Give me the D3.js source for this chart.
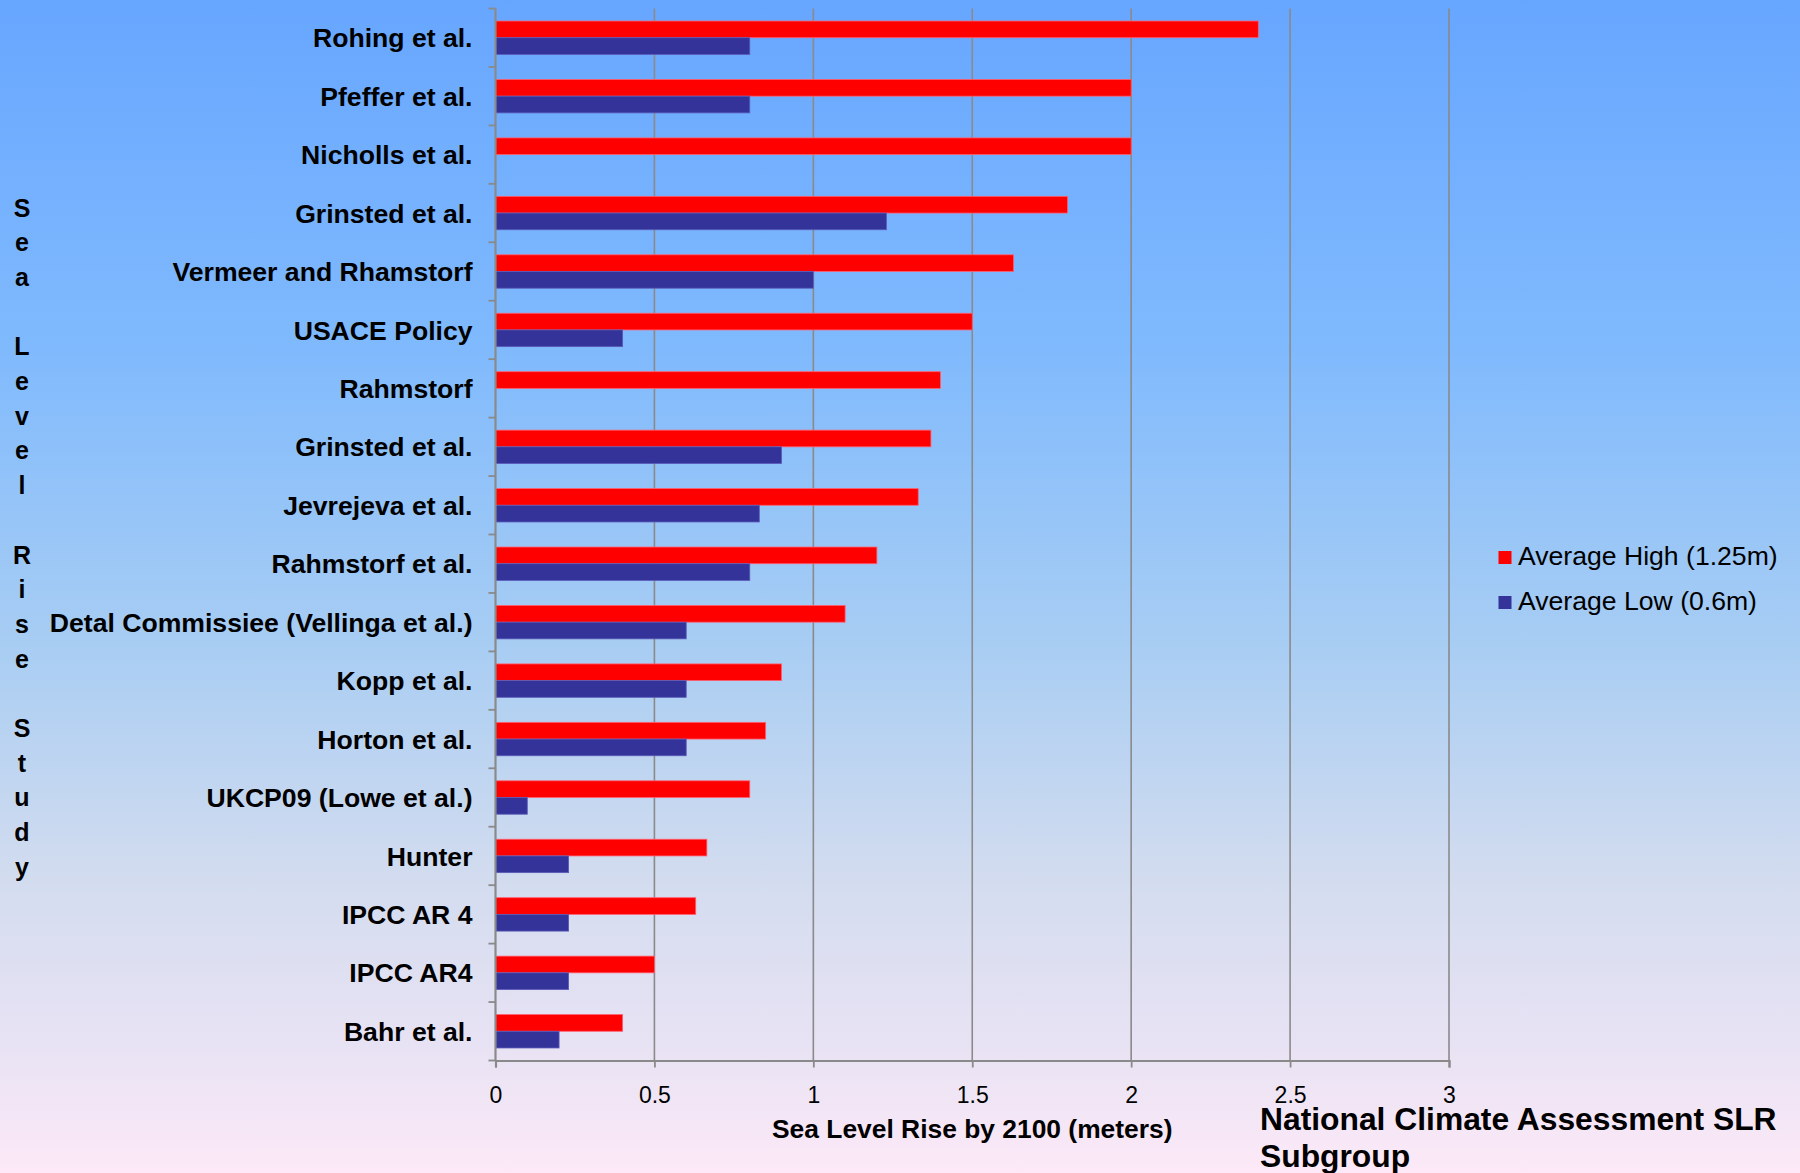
<!DOCTYPE html>
<html><head><meta charset="utf-8">
<script src="https://cdn.jsdelivr.net/npm/d3@7"></script>
<style>html,body{margin:0;padding:0;overflow:hidden;}svg{display:block;}</style>
</head><body>
<script>
const categories = ["Rohing et al.","Pfeffer et al.","Nicholls et al.","Grinsted et al.","Vermeer and Rhamstorf","USACE Policy","Rahmstorf","Grinsted et al.","Jevrejeva et al.","Rahmstorf et al.","Detal Commissiee (Vellinga et al.)","Kopp et al.","Horton et al.","UKCP09 (Lowe et al.)","Hunter","IPCC AR 4","IPCC AR4","Bahr et al."];
const highValues = [2.4,2.0,2.0,1.8,1.63,1.5,1.4,1.37,1.33,1.2,1.1,0.9,0.85,0.8,0.665,0.63,0.5,0.4];
const lowValues  = [0.8,0.8,null,1.23,1.0,0.4,null,0.9,0.83,0.8,0.6,0.6,0.6,0.1,0.23,0.23,0.23,0.2];
const seriesNames = ["Average High (1.25m)","Average Low (0.6m)"];
const xTicks = [0,0.5,1,1.5,2,2.5,3];
const yTitle = "Sea Level Rise Study";
const xTitle = "Sea Level Rise by 2100 (meters)";
const noteLines = ["National Climate Assessment SLR","Subgroup"];

const W=1800,H=1173;
const L=495.5,R=1449,T=8.5,B=1060.5;
const font="Arial, 'Liberation Sans', sans-serif";
const colors=["#ff0000","#333399"];
const strokes=["#ff6070","#5a5ab8"];

const svg=d3.select("body").append("svg").attr("width",W).attr("height",H);
const defs=svg.append("defs");
const grad=defs.append("linearGradient").attr("id","bg").attr("x1",0).attr("y1",0).attr("x2",0).attr("y2",1);
[[0,"#67a6ff"],[0.3,"#80bafd"],[0.55,"#a8cdf3"],[0.75,"#d3dcef"],[0.9,"#e9e3f4"],[1,"#fde9f7"]].forEach(s=>grad.append("stop").attr("offset",s[0]).attr("stop-color",s[1]));
svg.append("rect").attr("width",W).attr("height",H).attr("fill","url(#bg)");

const x=d3.scaleLinear().domain([0,3]).range([L,R]);
const y=d3.scaleBand().domain(d3.range(categories.length)).range([T,B]).padding(0);
const sub=d3.scaleBand().domain([0,1]).range([0,y.bandwidth()]).paddingOuter(0.75).paddingInner(0);

// gridlines
svg.append("g").selectAll("line").data(xTicks.filter(d=>d>0)).join("line")
  .attr("x1",d=>x(d)).attr("x2",d=>x(d)).attr("y1",T).attr("y2",B)
  .attr("stroke","#8a8a8a").attr("stroke-width",1.6);

// bars
const g=svg.append("g");
const rows=categories.map((c,i)=>({i,vals:[highValues[i],lowValues[i]]}));
rows.forEach(r=>{
  r.vals.forEach((v,k)=>{
    if(v==null) return;
    g.append("rect").attr("x",x(0)).attr("y",y(r.i)+sub(k))
     .attr("width",x(v)-x(0)).attr("height",sub.bandwidth())
     .attr("fill",colors[k]).attr("stroke",strokes[k]).attr("stroke-width",0.8);
  });
});

// x axis
const xAxis=svg.append("g").attr("transform",`translate(0,${B})`)
  .call(d3.axisBottom(x).tickValues(xTicks).tickSize(7).tickPadding(19).tickFormat(d3.format("")));
xAxis.select(".domain").attr("stroke","#8a8a8a").attr("stroke-width",2.2);
xAxis.selectAll(".tick line").attr("stroke","#8a8a8a").attr("stroke-width",1.8);
xAxis.selectAll(".tick text").attr("font-family",font).attr("font-size",23).attr("fill","#000");

// y axis
const yAxisG=svg.append("g");
yAxisG.append("line").attr("x1",L).attr("x2",L).attr("y1",T).attr("y2",B).attr("stroke","#8a8a8a").attr("stroke-width",2.2);
yAxisG.selectAll("line.tk").data(d3.range(categories.length+1)).join("line").attr("class","tk")
  .attr("x1",L-7).attr("x2",L).attr("y1",i=>T+i*y.step()).attr("y2",i=>T+i*y.step())
  .attr("stroke","#8a8a8a").attr("stroke-width",1.8);
yAxisG.selectAll("text").data(categories).join("text")
  .attr("x",L-23).attr("y",(d,i)=>y(i)+y.bandwidth()/2).attr("dy","0.36em")
  .attr("text-anchor","end").attr("font-family",font).attr("font-weight","bold").attr("font-size",26.6)
  .attr("fill","#000").text(d=>d);

// y title (stacked letters)
const yt=svg.append("text").attr("font-family",font).attr("font-weight","bold").attr("font-size",25).attr("text-anchor","middle").attr("fill","#000");
yTitle.split("").forEach((ch,i)=>{
  yt.append("tspan").attr("x",22).attr("y",216.5+i*34.7).text(ch===" "?"\u00a0":ch);
});

// x title
svg.append("text").attr("x",(L+R)/2).attr("y",1138).attr("text-anchor","middle")
  .attr("font-family",font).attr("font-weight","bold").attr("font-size",26.4).attr("fill","#000").text(xTitle);

// note
noteLines.forEach((t,i)=>svg.append("text").attr("x",1260).attr("y",1130+i*37)
  .attr("font-family",font).attr("font-weight","bold").attr("font-size",31.8).attr("fill","#000").text(t));

// legend
const lg=svg.append("g");
seriesNames.forEach((s,i)=>{
  lg.append("rect").attr("x",1498.5).attr("y",551+i*45).attr("width",13).attr("height",13).attr("fill",colors[i]);
  lg.append("text").attr("x",1518).attr("y",565+i*45).attr("font-family",font).attr("font-size",26.6).attr("fill","#000").text(s);
});
</script>
</body></html>
